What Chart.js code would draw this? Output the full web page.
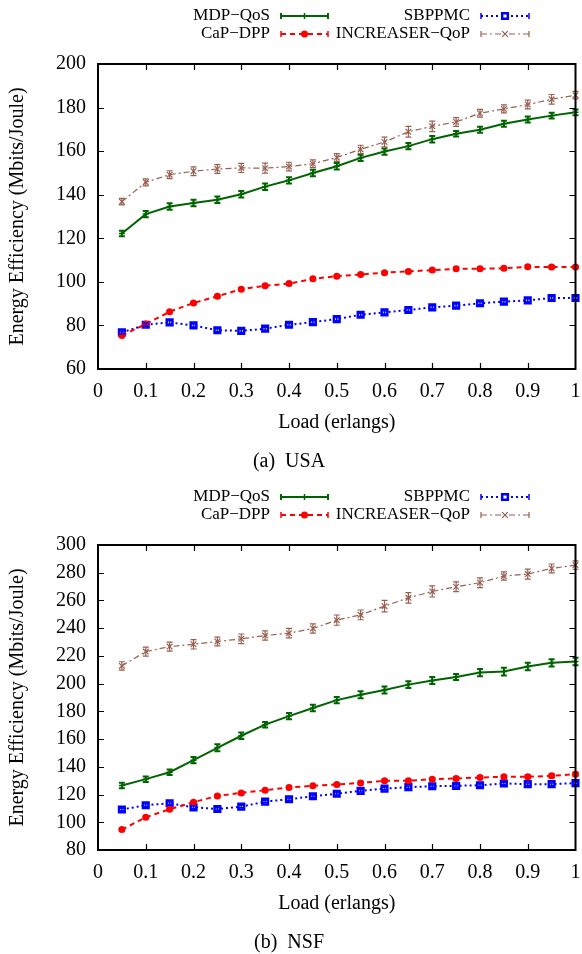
<!DOCTYPE html>
<html><head><meta charset="utf-8">
<script src="https://cdn.jsdelivr.net/npm/chart.js@4"></script>
<style>
html,body{margin:0;padding:0;background:#fff;}
body{width:582px;height:954px;position:relative;overflow:hidden;}
.w{position:absolute;left:0;width:582px;height:473px;}
</style></head><body>
<div class="w" style="top:0"><canvas id="c1"></canvas></div>
<div class="w" style="top:481px"><canvas id="c2"></canvas></div>
<script>
const loads = [0.05,0.1,0.15,0.2,0.25,0.3,0.35,0.4,0.45,0.5,0.55,0.6,0.65,0.7,0.75,0.8,0.85,0.9,0.95,1.0];
const seriesNames = ['MDP\u2212QoS','CaP\u2212DPP','SBPPMC','INCREASER\u2212QoP'];

// (a) USA
const mdpUSA = [122.2,131.1,134.6,136.2,137.7,140.2,143.7,146.6,150.0,153.1,156.9,159.8,162.3,165.5,168.0,169.8,172.6,174.5,176.3,177.8];
const capUSA = [75.4,80.6,86.3,90.3,93.4,96.6,98.2,99.2,101.4,102.6,103.4,104.2,104.8,105.4,106.0,106.0,106.2,106.9,106.8,106.8];
const sbpUSA = [76.8,80.3,81.4,80.0,77.8,77.5,78.5,80.3,81.5,82.9,84.9,86.0,87.1,88.3,89.1,90.2,90.9,91.5,92.6,92.6];
const incUSA = [136.8,145.7,149.2,150.8,151.8,152.3,152.2,152.9,154.2,157.1,160.8,164.2,168.9,171.4,173.4,177.4,179.4,181.4,183.8,185.7];
const mdpErrUSA = [1.3,1.4,1.5,1.5,1.5,1.5,1.5,1.4,1.5,1.5,1.4,1.4,1.4,1.5,1.3,1.4,1.4,1.4,1.3,1.3];
const capErrUSA = [0.6,0.6,0.6,0.6,0.6,0.6,0.6,0.6,0.6,0.6,0.6,0.6,0.6,0.6,0.6,0.6,0.6,0.6,0.6,0.6];
const sbpErrUSA = [0.7,0.7,0.7,0.7,0.7,0.7,0.7,0.7,0.7,0.7,0.7,0.7,0.7,0.7,0.7,0.7,0.7,0.7,0.7,0.7];
const incErrUSA = [1.5,1.6,1.8,2.0,2.0,2.1,2.3,2.0,1.8,1.8,1.9,2.2,2.5,2.4,2.0,1.8,1.8,2.0,2.2,1.7];

// (b) NSF
const mdpNSF = [126.5,131.1,136.1,144.8,153.7,162.4,170.4,176.6,182.4,188.1,192.0,195.4,199.3,202.2,204.8,208.0,208.7,212.3,215.0,215.9];
const capNSF = [94.7,103.6,109.4,114.5,119.0,121.2,123.1,125.1,126.3,127.3,128.4,129.9,129.9,131.1,131.6,132.3,132.8,132.8,133.5,134.7];
const sbpNSF = [109.2,112.3,113.7,110.8,109.6,111.3,114.9,116.6,118.8,120.6,122.7,124.3,125.3,126.0,126.3,126.7,128.0,127.5,127.5,128.2];
const incNSF = [212.8,223.1,226.7,228.4,230.4,232.3,234.7,236.4,239.8,245.8,249.6,255.9,261.9,266.5,269.9,272.8,277.6,279.0,283.1,285.5];
const mdpErrNSF = [2.0,2.0,2.0,2.3,2.5,2.3,2.0,2.2,2.3,2.2,2.5,2.6,2.5,2.5,2.2,2.6,2.8,2.7,2.6,2.7];
const capErrNSF = [0.8,0.8,0.8,0.8,0.8,0.8,0.8,0.8,0.8,0.9,1.0,1.0,1.0,1.1,1.2,1.2,1.2,1.3,1.3,1.4];
const sbpErrNSF = [0.9,0.9,0.9,0.9,0.9,0.9,0.9,0.9,0.9,0.9,0.9,0.9,0.9,0.9,0.9,0.9,0.9,0.9,0.9,0.9];
const incErrNSF = [3.0,3.3,3.2,3.4,3.2,3.5,3.3,3.4,3.3,3.7,3.5,4.2,3.8,4.0,3.5,3.5,3.0,3.6,3.2,3.0];

const FONT = '"Liberation Serif", "Times New Roman", serif';

function pts(vals){ return loads.map((x,i)=>({x:x, y:vals[i]})); }

function datasets(mdp, cap, sbp, inc, eM, eC, eS, eI){
  return [
    {label:seriesNames[0], data:pts(mdp), errors:eM, borderColor:'#006400', backgroundColor:'#006400',
     borderWidth:2, pointStyle:'cross', pointRadius:3, pointBorderWidth:1.5, errorWidth:2},
    {label:seriesNames[1], data:pts(cap), errors:eC, borderColor:'#ff0000', backgroundColor:'#ff0000',
     borderWidth:2, borderDash:[5,4], pointStyle:'circle', pointRadius:3.5, pointBorderWidth:0, errorWidth:1.5},
    {label:seriesNames[2], data:pts(sbp), errors:eS, borderColor:'#0000ff', backgroundColor:'#ffffff',
     borderWidth:2, borderDash:[2,3], pointStyle:'rect', pointRadius:4, pointBorderWidth:2.5, errorWidth:1.5},
    {label:seriesNames[3], data:pts(inc), errors:eI, borderColor:'#975f50', backgroundColor:'#975f50',
     borderWidth:1.2, borderDash:[6,3,2,3], pointStyle:'crossRot', pointRadius:4, pointBorderWidth:1.2, errorWidth:1.2}
  ];
}

const errorBars = {
  id:'errorBars',
  afterDatasetsDraw(chart){
    const ctx = chart.ctx, xs = chart.scales.x, ys = chart.scales.y;
    chart.data.datasets.forEach(ds=>{
      if(!ds.errors) return;
      ctx.save();
      ctx.strokeStyle = ds.borderColor; ctx.lineWidth = ds.errorWidth; ctx.setLineDash([]);
      ds.data.forEach((p,j)=>{
        const e = ds.errors[j];
        const x = xs.getPixelForValue(p.x);
        const y1 = ys.getPixelForValue(p.y - e), y2 = ys.getPixelForValue(p.y + e);
        ctx.beginPath();
        ctx.moveTo(x,y1); ctx.lineTo(x,y2);
        ctx.moveTo(x-3,y1); ctx.lineTo(x+3,y1);
        ctx.moveTo(x-3,y2); ctx.lineTo(x+3,y2);
        ctx.stroke();
      });
      ctx.restore();
    });
  }
};

const frame = {
  id:'frame',
  afterDraw(chart){
    const ctx = chart.ctx, a = chart.chartArea, xs = chart.scales.x, ys = chart.scales.y;
    ctx.save();
    ctx.strokeStyle = '#000'; ctx.setLineDash([]);
    ctx.lineWidth = 1.2;
    ctx.beginPath();
    xs.ticks.forEach(t=>{
      const px = Math.round(xs.getPixelForValue(t.value)) + 0.5;
      if (px <= a.left+1 || px >= a.right-1) return;
      ctx.moveTo(px, a.bottom); ctx.lineTo(px, a.bottom-6);
      ctx.moveTo(px, a.top); ctx.lineTo(px, a.top+6);
    });
    ys.ticks.forEach(t=>{
      const py = Math.round(ys.getPixelForValue(t.value)) + 0.5;
      if (py <= a.top+1 || py >= a.bottom-1) return;
      ctx.moveTo(a.left, py); ctx.lineTo(a.left+6, py);
      ctx.moveTo(a.right, py); ctx.lineTo(a.right-6, py);
    });
    ctx.stroke();
    ctx.lineWidth = 2;
    ctx.strokeRect(a.left, a.top, a.right-a.left, a.bottom-a.top);
    ctx.restore();
  }
};

const keyBox = {
  id:'keyBox',
  afterDraw(chart){
    const ctx = chart.ctx;
    const ds = chart.data.datasets;
    const slots = [
      {i:0, tx:270, x0:281, x1:328, y:16},
      {i:2, tx:470, x0:481, x1:529, y:16},
      {i:1, tx:270, x0:281, x1:328, y:34},
      {i:3, tx:470, x0:481, x1:529, y:34}
    ];
    ctx.save();
    slots.forEach(s=>{
      const d = ds[s.i];
      ctx.font = '17px ' + FONT;
      ctx.fillStyle = '#000'; ctx.textAlign = 'right'; ctx.textBaseline = 'middle';
      ctx.fillText(d.label, s.tx, s.y);
      ctx.strokeStyle = d.borderColor; ctx.lineWidth = d.borderWidth;
      ctx.setLineDash(d.borderDash || []);
      ctx.beginPath(); ctx.moveTo(s.x0, s.y); ctx.lineTo(s.x1, s.y); ctx.stroke();
      ctx.setLineDash([]); ctx.lineWidth = d.errorWidth;
      ctx.beginPath();
      ctx.moveTo(s.x0, s.y-3); ctx.lineTo(s.x0, s.y+3);
      ctx.moveTo(s.x1, s.y-3); ctx.lineTo(s.x1, s.y+3);
      ctx.stroke();
      ctx.fillStyle = d.backgroundColor; ctx.lineWidth = d.pointBorderWidth;
      Chart.helpers.drawPoint(ctx, {pointStyle:d.pointStyle, radius:d.pointRadius, borderWidth:d.pointBorderWidth, rotation:0}, (s.x0+s.x1)/2, s.y);
    });
    ctx.restore();
  }
};

function makeChart(id, dsets, ymin, ymax, caption){
  const f20 = {family:FONT, size:20, lineHeight:1};
  return new Chart(document.getElementById(id), {
    type:'line',
    data:{datasets:dsets},
    plugins:[errorBars, frame, keyBox],
    options:{
      responsive:true, maintainAspectRatio:false, animation:false, devicePixelRatio:1,
      layout:{padding:{top:64, right:4, left:0, bottom:0}},
      elements:{line:{tension:0, fill:false}},
      datasets:{line:{clip:false}},
      plugins:{
        legend:{display:false},
        tooltip:{enabled:false},
        title:{display:true, position:'bottom', text:caption, color:'#000', font:{family:FONT, size:20, weight:'normal', lineHeight:1}, padding:{top:0, bottom:1}}
      },
      scales:{
        x:{type:'linear', min:0, max:1,
           ticks:{stepSize:0.1, color:'#000', font:f20, padding:13, maxRotation:0,
                  callback:v=>String(Number(v.toFixed(1)))},
           grid:{display:false, drawTicks:false}, border:{display:false},
           title:{display:true, text:'Load (erlangs)', color:'#000', font:f20, padding:{top:0, bottom:19}},
           afterFit:s=>{s.height = 83; s.paddingRight = 0; s.paddingLeft = 0;}},
        y:{type:'linear', min:ymin, max:ymax,
           ticks:{stepSize:20, color:'#000', font:f20, padding:12},
           grid:{display:false, drawTicks:false}, border:{display:false},
           title:{display:true, text:'Energy Efficiency (Mbits/Joule)', color:'#000', font:f20, padding:{top:8, bottom:0}},
           afterFit:s=>{s.width = 98;}}
      }
    }
  });
}

makeChart('c1', datasets(mdpUSA, capUSA, sbpUSA, incUSA, mdpErrUSA, capErrUSA, sbpErrUSA, incErrUSA), 60, 200, '(a)  USA');
makeChart('c2', datasets(mdpNSF, capNSF, sbpNSF, incNSF, mdpErrNSF, capErrNSF, sbpErrNSF, incErrNSF), 80, 300, '(b)  NSF');
</script></body></html>
